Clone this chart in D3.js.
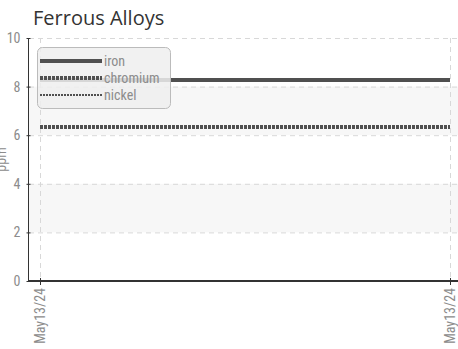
<!DOCTYPE html>
<html>
<head>
<meta charset="utf-8">
<script src="https://cdn.jsdelivr.net/npm/d3@7"></script>
<style>
  body { margin: 0; background: #fff; }
  svg { display: block; }
  .tick-label { font-family: "Liberation Sans Narrow", "Roboto", sans-serif; font-stretch: condensed; font-size: 14px; fill: #8c8c8c; }
</style>
</head>
<body>
<svg id="chart" width="458" height="349"></svg>
<script>
var title = 'Ferrous Alloys';
var dates = ['May13/24', 'May13/24'];
var seriesNames = ['iron', 'chromium', 'nickel'];
var iron = [8.27, 8.27];
var chromium = [6.34, 6.34];
var nickel = [0, 0];
var yTicks = [0, 2, 4, 6, 8, 10];

var svg = d3.select('#chart');

var x = d3.scaleLinear().domain([0, dates.length - 1]).range([40, 450]);
var y = d3.scaleLinear().domain([0, 10]).range([281, 38]);

// alternating bands
svg.selectAll('rect.band')
  .data([[2, 4], [6, 8]])
  .enter()
  .append('rect')
  .attr('x', 29)
  .attr('width', 429)
  .attr('y', function(d) { return y(d[1]); })
  .attr('height', function(d) { return y(d[0]) - y(d[1]); })
  .attr('fill', '#f7f7f7');

// horizontal grid
svg.selectAll('line.hgrid')
  .data(yTicks.filter(function(d) { return d > 0; }))
  .enter()
  .append('line')
  .attr('x1', 29).attr('x2', 458)
  .attr('y1', function(d) { return y(d) + 0.5; })
  .attr('y2', function(d) { return y(d) + 0.5; })
  .attr('stroke', '#d8d8d8')
  .attr('stroke-dasharray', '5,4');

// vertical grid
svg.selectAll('line.vgrid')
  .data(dates)
  .enter()
  .append('line')
  .attr('x1', function(d, i) { return x(i) + 0.5; })
  .attr('x2', function(d, i) { return x(i) + 0.5; })
  .attr('y1', 38).attr('y2', 281)
  .attr('stroke', '#d8d8d8')
  .attr('stroke-dasharray', '5,4');

// series lines
var styles = {
  iron: { width: 4, dash: null },
  chromium: { width: 4, dash: '3,1' },
  nickel: { width: 2, dash: '2,1' }
};
var seriesData = { iron: iron, chromium: chromium, nickel: nickel };

var line = d3.line()
  .x(function(d, i) { return x(i); })
  .y(function(d) { return y(d); });

seriesNames.forEach(function(name) {
  svg.append('path')
    .datum(seriesData[name])
    .attr('d', line)
    .attr('fill', 'none')
    .attr('stroke', '#505050')
    .attr('stroke-width', styles[name].width)
    .attr('stroke-dasharray', styles[name].dash);
});

// axes
var yAxis = svg.append('g')
  .attr('transform', 'translate(28.5,0)')
  .call(d3.axisLeft(y).tickValues(yTicks).tickSize(4).tickPadding(4));
yAxis.select('.domain').attr('stroke', '#333').attr('d', 'M0,' + y(10) + 'V' + y(0));
yAxis.selectAll('.tick line').attr('stroke', '#333').attr('x2', 2).attr('x1', -2);
yAxis.selectAll('.tick text')
  .attr('class', 'tick-label')
  .attr('font-family', null).attr('font-size', null);

svg.append('line')
  .attr('x1', 28).attr('x2', 458)
  .attr('y1', y(0)).attr('y2', y(0))
  .attr('stroke', '#333')
  .attr('stroke-width', 2);

// x ticks
svg.selectAll('line.xtick')
  .data(dates)
  .enter()
  .append('line')
  .attr('x1', function(d, i) { return x(i) + 0.5; })
  .attr('x2', function(d, i) { return x(i) + 0.5; })
  .attr('y1', y(0) - 3).attr('y2', y(0) + 4)
  .attr('stroke', '#333');

svg.selectAll('text.xlabel')
  .data(dates)
  .enter()
  .append('text')
  .attr('class', 'tick-label')
  .attr('text-anchor', 'end')
  .attr('transform', function(d, i) { return 'translate(' + (x(i) + 5) + ',' + (y(0) + 7) + ') rotate(-90)'; })
  .text(function(d) { return d; });

// y label
svg.append('text')
  .attr('class', 'tick-label')
  .attr('text-anchor', 'middle')
  .attr('transform', 'translate(6,' + y(5.0) + ') rotate(-90)')
  .text('ppm');

// legend
var legend = svg.append('g');
legend.append('rect')
  .attr('x', 37.5).attr('y', 47.5)
  .attr('width', 133).attr('height', 61)
  .attr('rx', 5)
  .attr('fill', '#eeeeee')
  .attr('fill-opacity', 0.85)
  .attr('stroke', '#bbb');

var rows = legend.selectAll('g.row')
  .data(seriesNames)
  .enter()
  .append('g')
  .attr('transform', function(d, i) { return 'translate(0,' + (61 + i * 17) + ')'; });

rows.append('line')
  .attr('x1', 40).attr('x2', 102)
  .attr('stroke', '#505050')
  .attr('stroke-width', function(d) { return styles[d].width; })
  .attr('stroke-dasharray', function(d) { return styles[d].dash; });

rows.append('text')
  .attr('class', 'tick-label')
  .attr('x', 104)
  .attr('dy', '0.35em')
  .text(function(d) { return d; });

// title
svg.append('text')
  .attr('x', 33).attr('y', 25)
  .attr('font-family', '"Open Sans", sans-serif')
  .attr('font-size', 20)
  .attr('fill', '#333')
  .text(title);
</script>
</body>
</html>
